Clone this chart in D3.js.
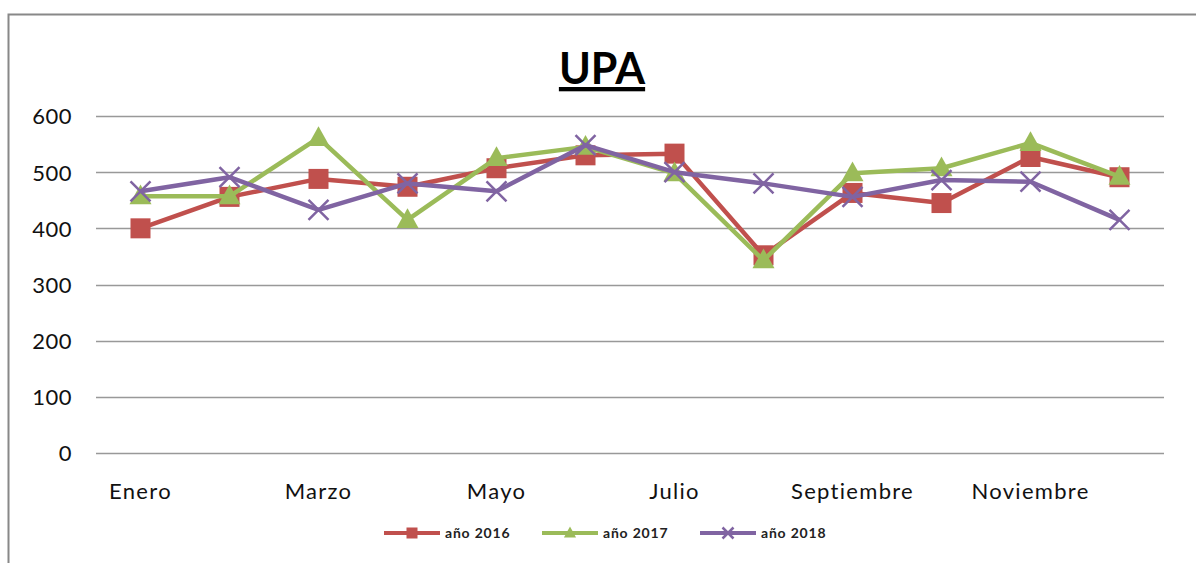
<!DOCTYPE html>
<html>
<head>
<meta charset="utf-8">
<script src="https://cdn.jsdelivr.net/npm/d3@7"></script>
<style>
  body { margin: 0; background: #fff; }
  svg { display: block; }
</style>
</head>
<body>
<div id="chart"></div>
<script>
var months = ['Enero', 'Febrero', 'Marzo', 'Abril', 'Mayo', 'Junio', 'Julio',
              'Agosto', 'Septiembre', 'Octubre', 'Noviembre', 'Diciembre'];
var shownLabels = ['Enero', 'Marzo', 'Mayo', 'Julio', 'Septiembre', 'Noviembre'];
var yTicks = [0, 100, 200, 300, 400, 500, 600];

var values2016 = [400, 456, 488, 474, 507, 530, 533, 352, 463, 445, 527, 491];
var values2017 = [457, 457, 561, 415, 525, 545, 498, 343, 498, 507, 552, 492];
var values2018 = [466, 491, 433, 480, 466, 548, 500, 480, 456, 486, 483, 415];

var seriesNames = ['año 2016', 'año 2017', 'año 2018'];
var seriesColors = ['#C0504D', '#9BBB59', '#8064A2'];
var seriesMarkers = ['square', 'triangle', 'cross'];

var width = 1196, height = 563;
var plot = { left: 96, right: 1164, top: 116, bottom: 453 };

var svg = d3.select('#chart').append('svg')
    .attr('width', width)
    .attr('height', height)
    .style('font-family', 'Lato, "Open Sans", sans-serif');

// chart frame (runs off right and bottom edges)
svg.append('path')
    .attr('d', 'M8.5,' + (height + 2) + 'V14.5H' + (width + 2))
    .attr('fill', 'none')
    .attr('stroke', '#888')
    .attr('stroke-width', 2);

// title
svg.append('text')
    .attr('x', 602)
    .attr('y', 84)
    .attr('text-anchor', 'middle')
    .style('font-size', '43px')
    .style('font-weight', 'bold')
    .style('text-decoration', 'underline')
    .text('UPA');

var x = d3.scaleBand().domain(months).range([plot.left, plot.right]);
var y = d3.scaleLinear().domain([0, 600]).range([plot.bottom, plot.top]);

// gridlines
svg.append('g')
    .selectAll('line')
    .data(yTicks)
    .join('line')
    .attr('x1', plot.left)
    .attr('x2', plot.right)
    .attr('y1', function(d) { return Math.round(y(d)) + 0.5; })
    .attr('y2', function(d) { return Math.round(y(d)) + 0.5; })
    .attr('stroke', '#999')
    .attr('stroke-width', 1.3);

// y axis labels
var yAxis = svg.append('g')
    .attr('transform', 'translate(' + (plot.left - 24) + ',0)')
    .call(d3.axisLeft(y).tickValues(yTicks).tickSize(0).tickPadding(0));
yAxis.select('.domain').remove();
yAxis.selectAll('text')
    .attr('dy', '0.36em')
    .style('font-family', 'Lato, "Open Sans", sans-serif')
    .style('font-size', '22px')
    .style('letter-spacing', '0.5px')
    .attr('fill', '#111');

// x axis labels, every other month
var xAxis = svg.append('g')
    .attr('transform', 'translate(0,' + (plot.bottom + 30) + ')')
    .call(d3.axisBottom(x).tickSize(0).tickPadding(0)
        .tickFormat(function(d) { return shownLabels.indexOf(d) >= 0 ? d : ''; }));
xAxis.select('.domain').remove();
xAxis.selectAll('text')
    .attr('dy', '0.71em')
    .style('font-family', 'Lato, "Open Sans", sans-serif')
    .style('font-size', '22px')
    .style('letter-spacing', '1.3px')
    .attr('fill', '#111');

function cx(d, i) { return x(months[i]) + x.bandwidth() / 2; }

function drawMarker(g, type, color, size) {
    if (type === 'square') {
        g.append('rect')
            .attr('x', -size / 2).attr('y', -size / 2)
            .attr('width', size).attr('height', size)
            .attr('fill', color);
    } else if (type === 'triangle') {
        var h = size * 0.95;
        g.append('path')
            .attr('d', 'M0,' + (-h * 0.62) + 'L' + (size * 0.55) + ',' + (h * 0.42) +
                'L' + (-size * 0.55) + ',' + (h * 0.42) + 'Z')
            .attr('fill', color);
    } else {
        var r = size / 2;
        g.append('path')
            .attr('d', 'M' + (-r) + ',' + (-r) + 'L' + r + ',' + r + 'M' + r + ',' + (-r) + 'L' + (-r) + ',' + r)
            .attr('stroke', color)
            .attr('stroke-width', 2.5)
            .attr('fill', 'none');
    }
}

var allSeries = [values2016, values2017, values2018];
var line = d3.line().x(cx).y(function(d) { return y(d); });

allSeries.forEach(function(vals, s) {
    var g = svg.append('g').attr('class', 'series');
    g.append('path')
        .datum(vals)
        .attr('d', line)
        .attr('fill', 'none')
        .attr('stroke', seriesColors[s])
        .attr('stroke-width', 4.5)
        .attr('stroke-linejoin', 'round');
    vals.forEach(function(v, i) {
        var m = g.append('g').attr('transform', 'translate(' + cx(v, i) + ',' + y(v) + ')');
        drawMarker(m, seriesMarkers[s], seriesColors[s], 20);
    });
});

// legend
var legendX = [384, 542, 700];
var legend = svg.append('g').attr('transform', 'translate(0,533)');
seriesNames.forEach(function(name, s) {
    var item = legend.append('g').attr('transform', 'translate(' + legendX[s] + ',0)');
    item.append('line')
        .attr('x1', 0).attr('x2', 56)
        .attr('stroke', seriesColors[s])
        .attr('stroke-width', 4);
    var m = item.append('g').attr('transform', 'translate(28,0)');
    drawMarker(m, seriesMarkers[s], seriesColors[s], 11);
    item.append('text')
        .attr('x', 61)
        .attr('dy', '0.35em')
        .style('font-size', '14px')
        .style('font-weight', 'bold')
        .style('letter-spacing', '0.8px')
        .attr('fill', '#222')
        .text(name);
});
</script>
</body>
</html>
